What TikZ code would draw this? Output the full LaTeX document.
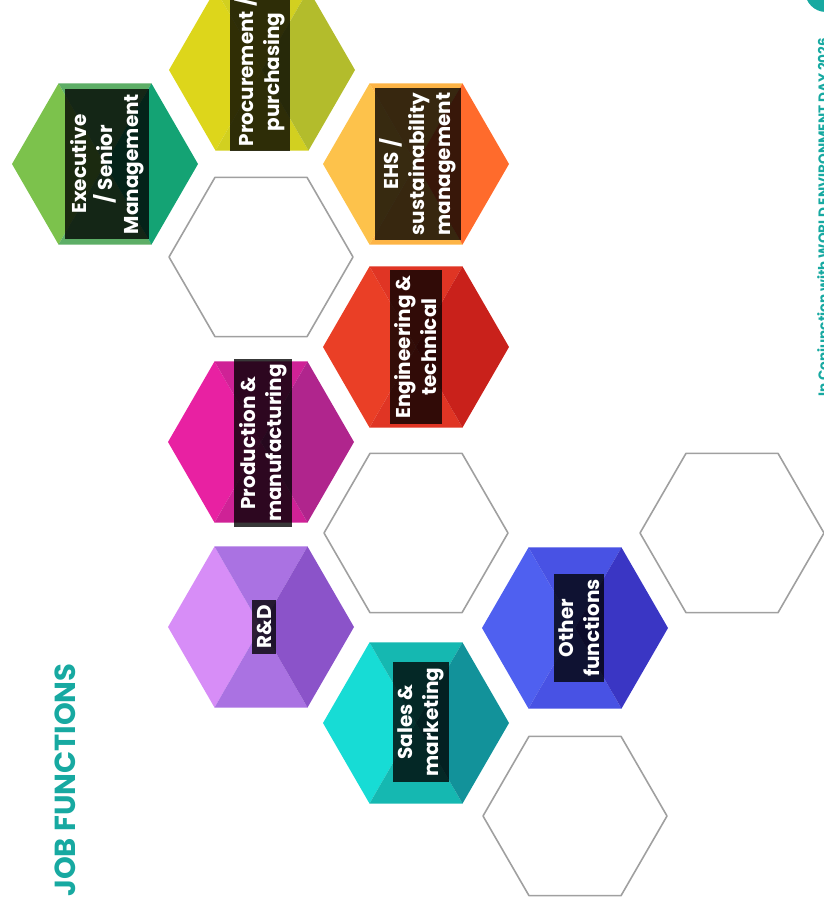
\documentclass[tikz,border=0pt]{standalone}
\usepackage{fontspec}
\setmainfont{Poppins}
\definecolor{jobteal}{HTML}{17A9A1}
\definecolor{blankline}{HTML}{A0A0A0}
% cell colours: light / medium / dark face
\definecolor{execL}{HTML}{7CC24C}
\definecolor{execM}{HTML}{5DAE66}
\definecolor{execR}{HTML}{14A374}
\definecolor{procL}{HTML}{DDD61B}
\definecolor{procM}{HTML}{D2D020}
\definecolor{procR}{HTML}{B3BC2C}
\definecolor{ehsL}{HTML}{FDC24B}
\definecolor{ehsM}{HTML}{FDB446}
\definecolor{ehsR}{HTML}{FF6B2C}
\definecolor{engL}{HTML}{EA3F26}
\definecolor{engM}{HTML}{E03524}
\definecolor{engR}{HTML}{C9211B}
\definecolor{prodL}{HTML}{E821A2}
\definecolor{prodM}{HTML}{CF2296}
\definecolor{prodR}{HTML}{B0258D}
\definecolor{rdL}{HTML}{D78DF7}
\definecolor{rdM}{HTML}{AA72E2}
\definecolor{rdR}{HTML}{8B53C9}
\definecolor{salesL}{HTML}{17DCD5}
\definecolor{salesM}{HTML}{15B8B1}
\definecolor{salesR}{HTML}{12929A}
\definecolor{otherL}{HTML}{4F60F0}
\definecolor{otherM}{HTML}{4852E4}
\definecolor{otherR}{HTML}{3A36C4}

\begin{document}
\begin{tikzpicture}[x=0.5pt, y=-0.5pt, line join=round, line cap=round,
        joblabel/.style={rotate=90, text=white, fill=black, fill opacity=0.78, text opacity=1,
            font=\bfseries\fontsize{10}{13}\selectfont, align=center, inner sep=2.5pt}]
    \useasboundingbox (0,0) rectangle (824,910);
    \clip (0,0) rectangle (824,910);

    % empty cells
    \foreach \cx/\cy in {261/257, 416/533, 732/533, 575/816} {
        \begin{scope}[shift={(\cx,\cy)}]
            \draw[blankline, line width=0.8pt]
                (0:92) \foreach \k in {1, ..., 5} { -- (60*\k:92) } -- cycle;
        \end{scope}
    }

    % coloured cells, shaded like a cube
    \foreach \cx/\cy/\hue in {105/164/exec, 262/70/proc, 416/164/ehs, 416/347/eng,
                              261/442/prod, 261/627/rd, 416/723/sales, 575/628/other} {
        \begin{scope}[shift={(\cx,\cy)}]
            \fill[\hue L] (180:93) -- (120:93) -- (0,0) -- (240:93) -- cycle;
            \fill[\hue M] (120:93) -- (60:93) -- (0,0) -- cycle;
            \fill[\hue M] (240:93) -- (300:93) -- (0,0) -- cycle;
            \fill[\hue R] (60:93) -- (0:93) -- (300:93) -- (0,0) -- cycle;
        \end{scope}
    }

    \node[joblabel] (exec) at (107,164) {Executive\\/ Senior\\Management};
    \node[joblabel] (proc) at (260,72) {Procurement /\\purchasing};
    \node[joblabel] (ehs) at (418,164) {EHS /\\sustainability\\management};
    \node[joblabel] (eng) at (416,347) {Engineering \&\\technical};
    \node[joblabel] (prod) at (263,443) {Production \&\\manufacturing};
    \node[joblabel] (rd) at (264,627) {R\&D};
    \node[joblabel] (sales) at (421,722) {Sales \&\\marketing};
    \node[joblabel] (other) at (579,628) {Other\\functions};

    \node[rotate=90, text=jobteal, font=\bfseries\fontsize{14.5}{18}\selectfont] (title) at (65,780) {JOB FUNCTIONS};

    \fill[jobteal] (826,-9) circle[radius=21];
    \node[rotate=90, anchor=base west, inner sep=0pt, text=jobteal,
        font=\bfseries\fontsize{6.8}{8}\selectfont] (event) at (828,397)
        {In Conjunction with WORLD ENVIRONMENT DAY 2026};
\end{tikzpicture}
\end{document}
